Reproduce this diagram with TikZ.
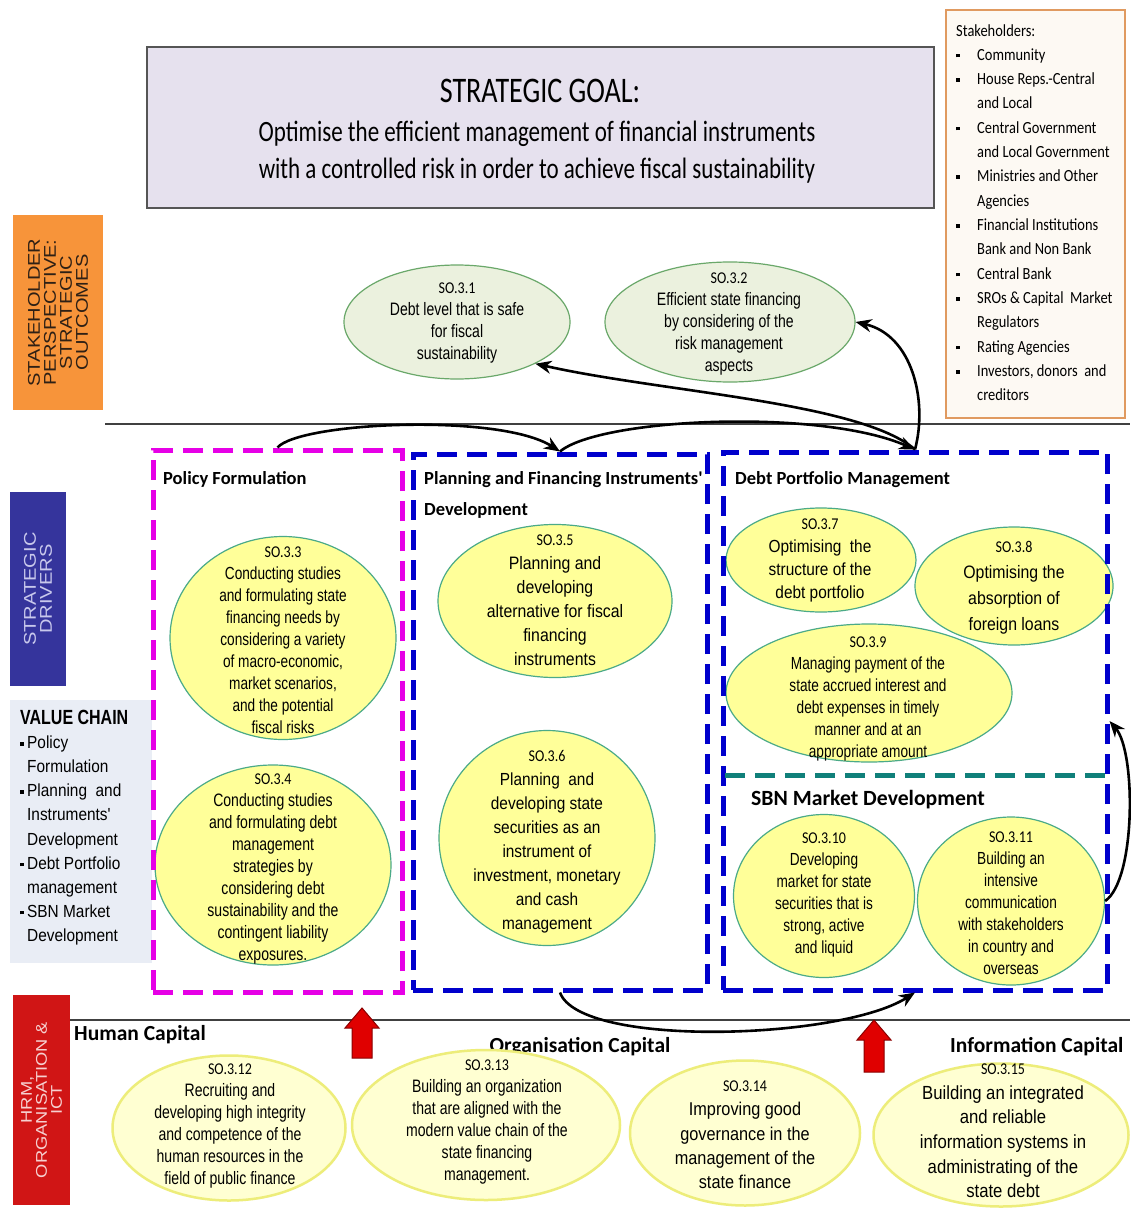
\documentclass[tikz,border=0pt]{standalone}
\usepackage{fontspec}
\setmainfont{Liberation Sans}
\newfontfamily\nfont[FakeStretch=0.78]{Liberation Sans}
\newfontfamily\nfontw[FakeStretch=0.88]{Liberation Sans}
\newfontfamily\wfont[FakeStretch=1.18]{Liberation Sans}
\newfontfamily\cfont[FakeStretch=0.85]{Carlito}
\newfontfamily\hfont{Carlito}
\newfontfamily\gfont[FakeStretch=0.78]{Carlito}
\usetikzlibrary{arrows.meta,shapes.geometric}
\definecolor{goalfill}{HTML}{E6E1EE}
\definecolor{goalline}{HTML}{555555}
\definecolor{stkline}{HTML}{E09A60}
\definecolor{stkfill}{HTML}{FDF9F3}
\definecolor{sorange}{HTML}{F7943A}
\definecolor{sotext}{HTML}{2E2015}
\definecolor{drvblue}{HTML}{35349C}
\definecolor{drvtext}{HTML}{C8C8EC}
\definecolor{vcfill}{HTML}{E9EDF5}
\definecolor{hrmred}{HTML}{D01515}
\definecolor{hrmtext}{HTML}{F6D0D0}
\definecolor{ellfill}{HTML}{FFFF99}
\definecolor{ellline}{HTML}{4BAA88}
\definecolor{greenfill}{HTML}{EBF1DE}
\definecolor{greenline}{HTML}{6AA86A}
\definecolor{botfill}{HTML}{FFFFD2}
\definecolor{botline}{HTML}{EDED7A}
\definecolor{dmag}{HTML}{E600E6}
\definecolor{dblue}{HTML}{0000CC}
\definecolor{dteal}{HTML}{10807A}
\definecolor{redarr}{HTML}{E00000}
\definecolor{redarrline}{HTML}{8A0000}
\newcommand\fs[2]{\fontsize{#1}{#2}\selectfont}
\newcommand\solab[1]{{\cfont\fs{16.5}{22}#1}}
\newcommand\bul[1]{\makebox[#1][l]{\rule[3pt]{3.5pt}{3.5pt}}}
\begin{document}
\begin{tikzpicture}[x=1pt,y=-1pt,
  ell/.style={ellipse, draw=ellline, fill=ellfill, line width=1.2pt, inner sep=0pt},
  topell/.style={ellipse, draw=greenline, fill=greenfill, line width=1.2pt, inner sep=0pt},
  botell/.style={ellipse, draw=botline, fill=botfill, line width=2.5pt, inner sep=0pt},
  etxt/.style={align=center, inner sep=0pt},
  dbox/.style={rectangle, draw, line width=5pt, dash pattern=on 20pt off 10pt, inner sep=0pt},
  head/.style={inner sep=0pt, anchor=base west, font=\hfont\bfseries\fs{18.5}{22}},
  caphead/.style={inner sep=0pt, anchor=base west, font=\hfont\bfseries\fs{21.5}{24}},
  conn/.style={line width=2.6pt, -{Stealth[length=16pt,width=13pt]}},
  sep/.style={line width=1.3pt, draw=black!75}
]
\useasboundingbox (0,0) rectangle (1130,1209);
\fill[white] (0,0) rectangle (1130,1209);

% separators
\draw[sep] (105,424) -- (1130,424);
\draw[sep] (70,1020) -- (1130,1020);

% left band
\node[fill=sorange, rotate=90, minimum width=195pt, minimum height=90pt, inner sep=0pt,
  align=center, text=sotext, font=\wfont\fs{17}{16}] (bso) at (58,312.5)
  {STAKEHOLDER\\PERSPECTIVE:\\STRATEGIC\\OUTCOMES};
\node[fill=drvblue, rotate=90, minimum width=194pt, minimum height=56pt, inner sep=0pt,
  align=center, text=drvtext, font=\wfont\fs{17}{16}] (bdrv) at (38,589)
  {STRATEGIC\\DRIVERS};
\node[fill=vcfill, minimum width=142pt, minimum height=263pt, inner sep=0pt] (vcbox) at (81,831.5) {};
\node[anchor=north west, inner sep=0pt, align=left, font=\nfontw\fs{17.5}{24.1}] (vctext) at (20,710)
  {{\nfont\bfseries\fs{20.5}{24.1}VALUE CHAIN}\\
   \bul{7pt}Policy\\ \hspace*{7pt}Formulation\\
   \bul{7pt}Planning\ \ and\\ \hspace*{7pt}Instruments'\\ \hspace*{7pt}Development\\
   \bul{7pt}Debt Portfolio\\ \hspace*{7pt}management\\
   \bul{7pt}SBN Market\\ \hspace*{7pt}Development};
\node[fill=hrmred, rotate=90, minimum width=210pt, minimum height=57pt, inner sep=0pt,
  align=center, text=hrmtext, font=\wfont\fs{15.5}{15}] (bhrm) at (41.5,1100)
  {HRM,\\ORGANISATION \&\\ICT};

% strategic goal
\node[draw=goalline, fill=goalfill, line width=1.5pt, minimum width=787pt, minimum height=161pt, inner sep=0pt] (goal) at (540.5,127.5) {};
\node[font=\gfont\fs{36}{36}, inner sep=0pt] (goalt) at (540,91) {STRATEGIC GOAL:};
\node[font=\gfont\fs{29.5}{37}, align=center, inner sep=0pt] (goalb) at (537,152)
  {Optimise the efficient management of financial instruments\\with a controlled risk in order to achieve fiscal sustainability};

% stakeholders
\node[draw=stkline, fill=stkfill, line width=1.3pt, minimum width=179pt, minimum height=408pt, inner sep=0pt] (stk) at (1035.5,214) {};
\node[anchor=north west, inner sep=0pt, align=left, font=\cfont\fs{17}{24.33}] (stktext) at (956,24)
  {Stakeholders:\\
   \bul{21pt}Community\\
   \bul{21pt}House Reps.-Central\\ \hspace*{21pt}and Local\\
   \bul{21pt}Central Government\\ \hspace*{21pt}and Local Government\\
   \bul{21pt}Ministries and Other\\ \hspace*{21pt}Agencies\\
   \bul{21pt}Financial Institutions\\ \hspace*{21pt}Bank and Non Bank\\
   \bul{21pt}Central Bank\\
   \bul{21pt}SROs \& Capital\ \ Market\\ \hspace*{21pt}Regulators\\
   \bul{21pt}Rating Agencies\\
   \bul{21pt}Investors, donors\ \ and\\ \hspace*{21pt}creditors};

% strategic outcomes
\node[topell, minimum width=226pt, minimum height=114pt] (e1) at (457,322) {};
\node[etxt, font=\nfont\fs{18}{22}] (t1) at (457,323)
  {\solab{SO.3.1}\\Debt level that is safe\\for fiscal\\sustainability};
\node[topell, minimum width=250pt, minimum height=120pt] (e2) at (730,322) {};
\node[etxt, font=\nfont\fs{18}{22}] (t2) at (729,324)
  {\solab{SO.3.2}\\Efficient state financing\\by considering of the\\risk management\\aspects};

% section headings
\node[head] (hpf) at (163,484) {Policy Formulation};
\node[head] (hpl) at (424,484) {Planning and Financing Instruments'};
\node[head] (hpl2) at (424,515) {Development};
\node[head] (hdp) at (735,484) {Debt Portfolio Management};
\node[head, font=\hfont\bfseries\fs{21.7}{24}] (hsbn) at (751,805) {SBN Market Development};

% strategic driver ellipses
\node[ell, minimum width=226pt, minimum height=203pt] (e3) at (283,638) {};
\node[etxt, font=\nfont\fs{17.5}{22}] (t3) at (283,640)
  {\solab{SO.3.3}\\Conducting studies\\and formulating state\\financing needs by\\considering a variety\\of macro-economic,\\market scenarios,\\and the potential\\fiscal risks};
\node[ell, minimum width=236pt, minimum height=200pt] (e4) at (273,865) {};
\node[etxt, font=\nfont\fs{18}{22}] (t4) at (273,869)
  {\solab{SO.3.4}\\Conducting studies\\and formulating debt\\management\\strategies by\\considering debt\\sustainability and the\\contingent liability\\exposures.};
\node[ell, minimum width=234pt, minimum height=153pt] (e5) at (555,601) {};
\node[etxt, font=\nfontw\fs{18}{24}] (t5) at (555,600)
  {\solab{SO.3.5}\\Planning and\\developing\\alternative for fiscal\\financing\\instruments};
\node[ell, minimum width=216pt, minimum height=215pt] (e6) at (547,838) {};
\node[etxt, font=\nfontw\fs{17.5}{24}] (t6) at (547,842)
  {\solab{SO.3.6}\\Planning\ \ and\\developing state\\securities as an\\instrument of\\investment, monetary\\and cash\\management};
\node[ell, minimum width=190pt, minimum height=104pt] (e7) at (821,560) {};
\node[etxt, font=\nfontw\fs{17.5}{23}] (t7) at (820,560)
  {\solab{SO.3.7}\\Optimising\ \ the\\structure of the\\debt portfolio};
\node[ell, minimum width=198pt, minimum height=118pt] (e8) at (1014,586) {};
\node[etxt, font=\nfontw\fs{18}{26}] (t8) at (1014,588)
  {\solab{SO.3.8}\\Optimising the\\absorption of\\foreign loans};
\node[ell, minimum width=286pt, minimum height=138pt] (e9) at (869,693) {};
\node[etxt, font=\nfont\fs{17.5}{22}] (t9) at (868,699)
  {\solab{SO.3.9}\\Managing payment of the\\state accrued interest and\\debt expenses in timely\\manner and at an\\appropriate amount};
\node[ell, minimum width=181pt, minimum height=163pt] (e10) at (824,896) {};
\node[etxt, font=\nfont\fs{17.5}{22}] (t10) at (824,895)
  {\solab{SO.3.10}\\Developing\\market for state\\securities that is\\strong, active\\and liquid};
\node[ell, minimum width=187pt, minimum height=168pt] (e11) at (1011,901) {};
\node[etxt, font=\nfont\fs{17.5}{22}] (t11) at (1011,903)
  {\solab{SO.3.11}\\Building an\\intensive\\communication\\with stakeholders\\in country and\\overseas};

% dashed frames
\node[dbox, draw=dmag, minimum width=249pt, minimum height=542pt] (pf) at (277.5,721) {};
\node[dbox, draw=dblue, minimum width=294pt, minimum height=536pt] (pl) at (560,722) {};
\node[dbox, draw=dblue, minimum width=384pt, minimum height=538pt] (dp) at (915,721) {};
\coordinate (sbnl) at (725,775);
\coordinate (sbnr) at (1105,775);
\draw[line width=5pt, dash pattern=on 20pt off 10pt, draw=dteal] (sbnl) -- (sbnr);

% learning & growth
\node[caphead] (hhc) at (74,1040) {Human Capital};
\node[caphead, anchor=base] (hoc) at (580,1052) {Organisation Capital};
\node[caphead] (hic) at (950,1052) {Information Capital};

\node[botell, minimum width=233pt, minimum height=145pt] (e12) at (229,1128) {};
\node[etxt, font=\nfont\fs{18}{22}] (t12) at (230,1126)
  {\solab{SO.3.12}\\Recruiting and\\developing high integrity\\and competence of the\\human resources in the\\field of public finance};
\node[botell, minimum width=268pt, minimum height=150pt] (e13) at (486,1125) {};
\node[etxt, font=\nfont\fs{18}{22}] (t13) at (487,1122)
  {\solab{SO.3.13}\\Building an organization\\that are aligned with the\\modern value chain of the\\state financing\\management.};
\node[botell, minimum width=230pt, minimum height=145pt] (e14) at (745,1133) {};
\node[etxt, font=\nfontw\fs{18.5}{24.3}] (t14) at (745,1135)
  {\solab{SO.3.14}\\Improving good\\governance in the\\management of the\\state finance};
\node[botell, minimum width=255pt, minimum height=143pt] (e15) at (1001,1135) {};
\node[etxt, font=\nfontw\fs{19}{24.6}] (t15) at (1003,1131)
  {\solab{SO.3.15}\\Building an integrated\\and reliable\\information systems in\\administrating of the\\state debt};

% red block arrows
\filldraw[fill=redarr, draw=redarrline, line width=1pt]
  (362,1008) -- (379,1028) -- (372,1028) -- (372,1058) -- (352,1058) -- (352,1028) -- (345,1028) -- cycle;
\filldraw[fill=redarr, draw=redarrline, line width=1pt]
  (874,1020) -- (891,1040) -- (884,1040) -- (884,1072) -- (864,1072) -- (864,1040) -- (857,1040) -- cycle;

% connectors
\draw[conn] (pf.north) .. controls (300,422) and (500,413) .. (pl.north);
\draw[conn] (pl.north) .. controls (600,418) and (820,408) .. (dp.north);
\draw[conn] (dp.north) .. controls (860,402) and (660,392) .. (e1.-28);
\draw[conn] (dp.north) .. controls (928,400) and (912,335) .. (e2.east);
\draw[conn] (pl.south) .. controls (580,1048) and (840,1040) .. (dp.south);
\draw[conn] (e11.east) .. controls (1136,880) and (1136,752) .. (dp.east);
\end{tikzpicture}
\end{document}
